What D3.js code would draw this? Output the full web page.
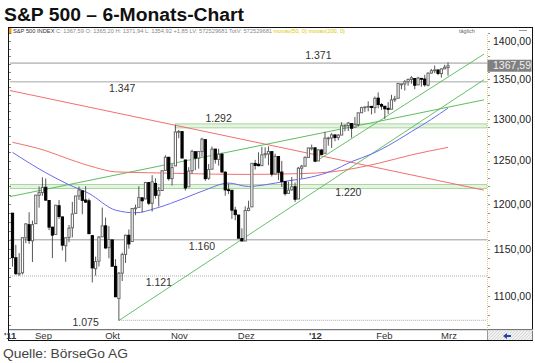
<!DOCTYPE html>
<html>
<head>
<meta charset="utf-8">
<script src="https://cdn.jsdelivr.net/npm/d3@7"></script>
<style>
  body { margin: 0; background: #fff; }
  svg text { font-family: "Liberation Sans", Arial, sans-serif; }
</style>
</head>
<body>
<div id="chart"></div>
<script>
// trading days shown (S&P 500, daily)
const days = [
  "2011-08-18","2011-08-19","2011-08-22","2011-08-23","2011-08-24","2011-08-25","2011-08-26","2011-08-29","2011-08-30","2011-08-31",
  "2011-09-01","2011-09-02","2011-09-06","2011-09-07","2011-09-08","2011-09-09","2011-09-12","2011-09-13","2011-09-14","2011-09-15","2011-09-16",
  "2011-09-19","2011-09-20","2011-09-21","2011-09-22","2011-09-23","2011-09-26","2011-09-27","2011-09-28","2011-09-29","2011-09-30",
  "2011-10-03","2011-10-04","2011-10-05","2011-10-06","2011-10-07","2011-10-10","2011-10-11","2011-10-12","2011-10-13","2011-10-14",
  "2011-10-17","2011-10-18","2011-10-19","2011-10-20","2011-10-21","2011-10-24","2011-10-25","2011-10-26","2011-10-27","2011-10-28","2011-10-31",
  "2011-11-01","2011-11-02","2011-11-03","2011-11-04","2011-11-07","2011-11-08","2011-11-09","2011-11-10","2011-11-11","2011-11-14",
  "2011-11-15","2011-11-16","2011-11-17","2011-11-18","2011-11-21","2011-11-22","2011-11-23","2011-11-25","2011-11-28","2011-11-29","2011-11-30",
  "2011-12-01","2011-12-02","2011-12-05","2011-12-06","2011-12-07","2011-12-08","2011-12-09","2011-12-12","2011-12-13","2011-12-14",
  "2011-12-15","2011-12-16","2011-12-19","2011-12-20","2011-12-21","2011-12-22","2011-12-23","2011-12-27","2011-12-28","2011-12-29","2011-12-30",
  "2012-01-03","2012-01-04","2012-01-05","2012-01-06","2012-01-09","2012-01-10","2012-01-11","2012-01-12","2012-01-13","2012-01-17",
  "2012-01-18","2012-01-19","2012-01-20","2012-01-23","2012-01-24","2012-01-25","2012-01-26","2012-01-27","2012-01-30","2012-01-31",
  "2012-02-01","2012-02-02","2012-02-03","2012-02-06","2012-02-07","2012-02-08","2012-02-09","2012-02-10","2012-02-13","2012-02-14",
  "2012-02-15","2012-02-16","2012-02-17","2012-02-21","2012-02-22","2012-02-23","2012-02-24","2012-02-27"
];
const open = [
  1189.6,1140.5,1123.5,1124.4,1162.2,1176.7,1158.9,1177.9,1209.8,1213.0,
  1219.1,1203.9,1174.0,1165.9,1198.0,1185.4,1153.5,1162.6,1173.3,1189.4,1209.2,1215.0,1204.5,1203.6,1164.6,1128.8,1136.9,1163.3,1175.4,1151.7,1159.9,
  1131.2,1097.4,1124.0,1144.1,1165.0,1158.2,1194.6,1196.2,1207.0,1205.7,1224.5,1200.8,1223.5,1209.9,1215.4,1238.7,1254.2,1229.2,1244.0,1284.4,1285.0,
  1251.0,1219.6,1238.3,1260.8,1253.2,1261.1,1275.2,1229.6,1240.1,1263.9,1251.7,1257.8,1236.6,1216.2,1215.6,1193.0,1187.5,1161.4,1158.7,1192.6,1196.7,
  1246.9,1246.0,1244.3,1257.2,1258.1,1260.9,1234.5,1255.1,1236.8,1225.7,1212.1,1216.1,1219.7,1205.7,1241.3,1243.7,1254.0,1265.0,1265.4,1249.8,1262.8,
  1258.9,1277.0,1277.3,1280.9,1277.8,1280.8,1292.0,1292.5,1294.8,1290.2,1293.7,1308.1,1314.5,1315.3,1316.0,1314.4,1326.3,1318.3,1316.2,1313.5,
  1312.5,1324.2,1326.2,1344.3,1344.3,1347.0,1350.0,1351.2,1343.1,1351.3,1350.5,1342.6,1358.1,1361.2,1362.1,1357.5,1363.5,1365.20
];
const high = [
  1189.6,1154.5,1145.5,1162.4,1178.6,1190.7,1181.2,1210.3,1220.1,1230.7,
  1229.3,1203.9,1174.0,1198.6,1204.4,1185.4,1162.5,1176.4,1202.4,1209.1,1220.1,1215.0,1220.4,1206.3,1164.6,1141.7,1164.2,1195.9,1184.7,1175.1,1159.9,
  1139.0,1125.1,1146.1,1165.6,1171.4,1194.9,1199.2,1220.3,1207.5,1224.6,1224.5,1233.1,1229.6,1219.4,1239.0,1256.6,1254.2,1246.3,1292.7,1287.1,1285.0,
  1251.0,1242.5,1263.2,1260.8,1261.7,1277.6,1275.2,1246.2,1267.0,1263.9,1264.3,1259.6,1237.7,1223.5,1215.6,1196.8,1187.5,1172.7,1197.4,1203.7,1247.1,
  1251.1,1260.1,1266.7,1266.0,1267.1,1260.9,1258.3,1255.1,1249.9,1225.7,1225.6,1231.0,1224.6,1242.8,1245.1,1255.2,1265.4,1269.4,1265.9,1263.5,1264.1,
  1284.6,1278.7,1283.1,1281.8,1282.0,1296.5,1293.8,1296.8,1294.8,1303.0,1308.1,1315.5,1315.4,1322.3,1316.0,1328.3,1333.5,1320.1,1316.2,1321.4,
  1330.5,1329.2,1345.3,1344.4,1349.2,1351.0,1354.3,1351.2,1353.4,1351.3,1355.9,1359.0,1363.4,1367.8,1362.7,1364.2,1368.9,1371.94
];
const low = [
  1131.0,1122.1,1121.1,1122.7,1156.3,1155.5,1135.9,1177.9,1195.8,1209.4,
  1203.9,1170.6,1140.1,1165.9,1183.3,1148.4,1136.1,1157.4,1162.7,1189.4,1204.5,1188.4,1201.3,1166.2,1114.2,1121.4,1131.1,1163.3,1150.4,1139.9,1131.3,
  1098.9,1074.8,1115.7,1134.9,1150.3,1158.2,1187.3,1196.2,1190.6,1205.7,1198.6,1191.5,1206.3,1197.3,1215.4,1238.7,1226.8,1221.1,1244.0,1277.0,1253.2,
  1215.4,1219.6,1234.8,1238.9,1240.8,1255.0,1226.6,1227.7,1240.1,1246.7,1244.3,1235.7,1209.4,1211.4,1183.2,1181.7,1161.8,1158.7,1158.7,1191.8,1196.7,
  1239.7,1243.4,1244.3,1253.0,1244.8,1231.5,1234.5,1227.3,1219.4,1209.5,1212.1,1215.2,1202.4,1205.7,1229.5,1243.1,1254.0,1262.3,1248.6,1249.8,1257.5,
  1258.9,1268.1,1265.3,1273.3,1274.6,1280.8,1285.4,1285.8,1277.6,1290.2,1291.0,1308.1,1309.2,1309.9,1306.1,1307.6,1313.6,1311.7,1300.5,1306.7,
  1312.5,1321.6,1326.2,1337.5,1335.9,1342.0,1344.6,1337.4,1343.1,1340.8,1340.8,1341.2,1357.2,1358.1,1355.5,1352.3,1363.5,1354.92
];
const close = [
  1140.7,1123.5,1123.8,1162.4,1177.6,1159.3,1176.8,1210.1,1212.9,1218.9,
  1204.4,1174.0,1165.2,1198.6,1185.9,1154.2,1162.3,1172.9,1188.7,1209.1,1216.0,1204.1,1202.1,1166.8,1129.6,1136.4,1163.0,1175.4,1151.1,1160.4,1131.4,
  1099.2,1124.0,1144.0,1165.0,1155.5,1194.9,1195.5,1207.3,1203.7,1224.6,1200.9,1225.4,1209.9,1215.4,1238.3,1254.2,1229.1,1242.0,1284.6,1285.1,1253.3,
  1218.3,1237.9,1261.2,1253.2,1261.1,1275.9,1229.1,1239.7,1263.9,1251.8,1257.8,1236.9,1216.1,1215.7,1193.0,1188.0,1161.8,1158.7,1192.6,1195.2,1247.0,
  1244.6,1244.3,1257.1,1258.5,1261.0,1234.4,1255.2,1236.5,1225.7,1211.8,1215.8,1219.7,1205.4,1241.3,1243.7,1254.0,1265.3,1265.4,1249.6,1263.0,1257.6,
  1277.1,1277.3,1281.1,1277.8,1280.7,1292.1,1292.5,1295.5,1289.1,1293.7,1308.0,1314.5,1315.4,1316.0,1314.7,1326.1,1318.4,1316.3,1313.0,1312.4,
  1324.1,1325.5,1344.9,1344.3,1347.1,1350.0,1352.0,1342.6,1351.8,1350.5,1343.2,1358.0,1361.2,1362.2,1357.7,1363.5,1365.7,1367.59
];

// moving averages (sample days)
const ma50Days = ["2011-08-18","2011-09-01","2011-09-13","2011-09-21","2011-10-03","2011-10-11","2011-10-19","2011-11-01","2011-11-09","2011-11-18",
  "2011-11-29","2011-12-06","2011-12-14","2011-12-27","2012-01-05","2012-01-13","2012-01-24","2012-01-31","2012-02-09","2012-02-17","2012-02-27"];
const ma50 = [1260,1236,1222,1212,1193,1190,1195,1207,1216,1224,1220,1222,1226,1231,1238,1249,1258,1268,1285,1300,1314];
const ma200Days = ["2011-08-18","2011-09-01","2011-09-13","2011-09-23","2011-10-03","2011-10-17","2011-11-01","2011-11-28","2011-12-21","2012-01-05","2012-01-26","2012-02-09","2012-02-27"];
const ma200 = [1272,1262,1252,1242,1237,1236,1235,1234,1235,1237,1247,1257,1266];

// horizontal marks
const levels = [1371, 1347, 1292, 1220, 1160, 1121, 1075];
const levelLabels = ["1.371", "1.347", "1.292", "1.220", "1.160", "1.121", "1.075"];
const levelFrom = [null, null, "2011-10-27", null, null, null, "2011-10-04"];
const levelLabelDays = ["2011-12-29", "2011-10-05", "2011-11-15", "2012-01-12", "2011-11-08", "2011-10-20", "2011-09-20"];

// trend lines: two anchor points each
const trendFrom = [["2011-10-27", 1292.7], ["2011-08-18", 1209], ["2011-10-04", 1074.8], ["2011-12-28", 1248.6]];
const trendTo   = [["2011-12-07", 1269.0], ["2012-02-27", 1315], ["2011-11-25", 1160.5], ["2012-02-27", 1353]];

const yTicks = [1100, 1150, 1200, 1250, 1300, 1350, 1400];
const monthLabels = ["'11", "Sep", "Okt", "Nov", "Dez", "'12", "Feb", "Mrz"];
const monthDates = ["2011-08-17", "2011-09-01", "2011-10-02", "2011-11-01", "2011-12-01", "2012-01-01", "2012-02-01", "2012-03-01"];

const W = 535, H = 363;
const L = 10, R = 487, T = 35, B = 328;
const svg = d3.select("#chart").append("svg").attr("width", W).attr("height", H);

const parse = d3.timeParse("%Y-%m-%d");
const idx = new Map(days.map((d, i) => [d, i]));
const x = d3.scaleLinear().domain([0, days.length - 1]).range([12.5, 448]);
const xd = d => x(idx.get(d));
const xt = d3.scaleTime().domain([parse(days[0]), parse(days[days.length - 1])]).range([12.3, 442.3]);
const y = d3.scaleLog().domain([1068.2, 1414.6]).range([327, 30]);
const de = d3.formatLocale({decimal: ",", thousands: ".", grouping: [3], currency: ["", ""]});
const fmt = de.format(".2f");

// title + source
svg.append("text").attr("x", 4).attr("y", 21)
  .attr("font-family", "'Open Sans', sans-serif").attr("font-weight", "bold").attr("font-size", 18)
  .attr("textLength", 240).attr("lengthAdjust", "spacingAndGlyphs").attr("fill", "#111")
  .text("S&P 500 – 6-Monats-Chart");
svg.append("text").attr("x", 3).attr("y", 358)
  .attr("font-family", "'Open Sans', sans-serif").attr("font-size", 13)
  .attr("textLength", 125).attr("lengthAdjust", "spacingAndGlyphs").attr("fill", "#444")
  .text("Quelle: BörseGo AG");

// frame
svg.append("rect").attr("x", 8.5).attr("y", 27.5).attr("width", 524).attr("height", 313)
  .attr("fill", "#fff").attr("stroke", "#111");

// info line
svg.append("rect").attr("x", 9).attr("y", 28).attr("width", 2.5).attr("height", 6).attr("fill", "#f39a1e");
const info = svg.append("text").attr("x", 13).attr("y", 33).attr("font-size", 5.5)
  .attr("textLength", 332).attr("lengthAdjust", "spacingAndGlyphs");
info.append("tspan").attr("fill", "#333").text("S&P 500 INDEX ");
info.append("tspan").attr("fill", "#888").text("C: 1367,59 O: 1365,20 H: 1371,94 L: 1354,92 +1,85 LV: 572529681 TotV: 572529681 ");
info.append("tspan").attr("fill", "#d9c800").text("movav(50, 0) movav(200, 0)");
svg.append("text").attr("x", 459).attr("y", 33).attr("font-size", 5.5).attr("fill", "#666").text("täglich");
svg.append("line").attr("x1", 519).attr("x2", 527).attr("y1", 30.5).attr("y2", 30.5).attr("stroke", "#999");

svg.append("clipPath").attr("id", "plot").append("rect")
  .attr("x", L).attr("y", T).attr("width", R - L).attr("height", B - T);
const g = svg.append("g").attr("clip-path", "url(#plot)");

// left minor ticks
const minor = d3.range(1070, 1415, 10);
svg.append("g").selectAll("line").data(minor).join("line")
  .attr("x1", 9).attr("x2", 11).attr("y1", d => Math.round(y(d)) + 0.5).attr("y2", d => Math.round(y(d)) + 0.5)
  .attr("stroke", "#666").attr("stroke-width", 0.8);

// horizontal levels
levels.forEach((v, i) => {
  const yy = y(v);
  const x1 = levelFrom[i] ? xd(levelFrom[i]) : L;
  if (v === 1292 || v === 1220) {
    g.append("rect").attr("x", x1).attr("y", yy - 2).attr("width", R - x1).attr("height", 4)
      .attr("fill", "#e6f3e2").attr("stroke", "#a8d7a0").attr("stroke-width", 1);
  } else {
    const dotted = v === 1121 || v === 1075;
    g.append("line").attr("x1", x1).attr("x2", R).attr("y1", yy).attr("y2", yy)
      .attr("stroke", dotted ? "#aaa" : (v === 1160 ? "#999" : "#c4c4c4"))
      .attr("stroke-width", dotted ? 1 : (v === 1160 ? 1 : 1.6))
      .attr("stroke-dasharray", dotted ? "1,1" : null);
  }
  const below = [1347, 1220, 1160, 1121].includes(v);
  svg.append("text").attr("x", xd(levelLabelDays[i])).attr("y", v === 1075 ? yy + 6 : (below ? yy + 10 : yy - 4))
    .attr("text-anchor", "middle").attr("font-size", 10.5).attr("fill", "#333").text(levelLabels[i]);
});

// trend lines, straight in pixel space
const trendColor = ["#f06060", "#4cb84c", "#55bb55", "#55bb55"];
const trendStart = [L, L, null, null];
trendFrom.forEach((a, i) => {
  const b = trendTo[i];
  const ax = xd(a[0]), ay = y(a[1]), bx = xd(b[0]), by = y(b[1]);
  const k = (by - ay) / (bx - ax);
  const sx = trendStart[i] === null ? ax : trendStart[i];
  const ex = 484;
  g.append("line").attr("x1", sx).attr("y1", ay + k * (sx - ax)).attr("x2", ex).attr("y2", ay + k * (ex - ax))
    .attr("stroke", trendColor[i]).attr("stroke-width", 1).attr("opacity", 0.9);
});

// moving averages
const maLine = d3.line().x(d => xd(d[0])).y(d => y(d[1])).curve(d3.curveMonotoneX);
g.append("path").attr("d", maLine(d3.zip(ma200Days, ma200))).attr("fill", "none").attr("stroke", "#f27070").attr("stroke-width", 1);
g.append("path").attr("d", maLine(d3.zip(ma50Days, ma50))).attr("fill", "none").attr("stroke", "#6a6af0").attr("stroke-width", 1);

// candles
const candles = g.append("g").selectAll("g").data(days).join("g");
candles.append("line")
  .attr("x1", (d, i) => x(i)).attr("x2", (d, i) => x(i))
  .attr("y1", (d, i) => y(high[i])).attr("y2", (d, i) => y(low[i]))
  .attr("stroke", "#444").attr("stroke-width", 0.9);
candles.append("rect")
  .attr("x", (d, i) => x(i) - 1.1).attr("width", 2.2)
  .attr("y", (d, i) => y(Math.max(open[i], close[i])))
  .attr("height", (d, i) => Math.max(0.8, Math.abs(y(open[i]) - y(close[i]))))
  .attr("fill", (d, i) => close[i] >= open[i] ? "#fff" : "#000")
  .attr("stroke", (d, i) => close[i] >= open[i] ? "#666" : "#000")
  .attr("stroke-width", 1);

// right axis
svg.append("line").attr("x1", R + 0.5).attr("x2", R + 0.5).attr("y1", T).attr("y2", B + 1)
  .attr("stroke", "#e2cf7a").attr("stroke-dasharray", "1,1");
svg.append("g").selectAll("line").data(minor).join("line")
  .attr("x1", R + 1).attr("x2", R + 3).attr("y1", d => Math.round(y(d)) + 0.5).attr("y2", d => Math.round(y(d)) + 0.5)
  .attr("stroke", "#777").attr("stroke-width", 0.8);
svg.append("g").selectAll("text").data(yTicks).join("text")
  .attr("x", 531).attr("y", d => y(d)).attr("dy", "0.35em").attr("text-anchor", "end")
  .attr("font-size", 10.5).attr("fill", "#222").text(d => fmt(d));
const last = close[close.length - 1];
svg.append("rect").attr("x", 487.5).attr("y", y(last) - 6).attr("width", 44).attr("height", 12).attr("fill", "#808080");
svg.append("text").attr("x", 531).attr("y", y(last)).attr("dy", "0.35em").attr("text-anchor", "end")
  .attr("font-size", 10.5).attr("fill", "#f0f0f0").text(fmt(last));

// bottom axis band
svg.append("line").attr("x1", 9).attr("x2", 533).attr("y1", 329.5).attr("y2", 329.5).attr("stroke", "#777");
svg.append("line").attr("x1", 9).attr("x2", 533).attr("y1", 330.5).attr("y2", 330.5).attr("stroke", "#ddd");
const defs = svg.append("defs");
const pat = defs.append("pattern").attr("id", "hatch").attr("width", 3).attr("height", 3).attr("patternUnits", "userSpaceOnUse");
pat.append("rect").attr("width", 3).attr("height", 3).attr("fill", "#f2f2f2");
pat.append("path").attr("d", "M0,3 L3,0").attr("stroke", "#c8c8c8").attr("stroke-width", 0.7);
svg.append("rect").attr("x", 487.5).attr("y", 331).attr("width", 45).attr("height", 9).attr("fill", "url(#hatch)");
svg.append("line").attr("x1", 487.5).attr("x2", 487.5).attr("y1", 329).attr("y2", 340).attr("stroke", "#999");
svg.append("path").attr("d", "M503,336 L507,333 L507,335 L511,335 L511,337 L507,337 L507,339 Z").attr("fill", "#2244aa");
svg.append("g").selectAll("text").data(monthLabels).join("text")
  .attr("x", (d, i) => xt(parse(monthDates[i])))
  .attr("y", 338.5).attr("text-anchor", "middle").attr("font-size", 9.5)
  .attr("font-weight", d => d.startsWith("'") ? "bold" : "normal")
  .attr("fill", "#333").text(d => d);
</script>
</body>
</html>
